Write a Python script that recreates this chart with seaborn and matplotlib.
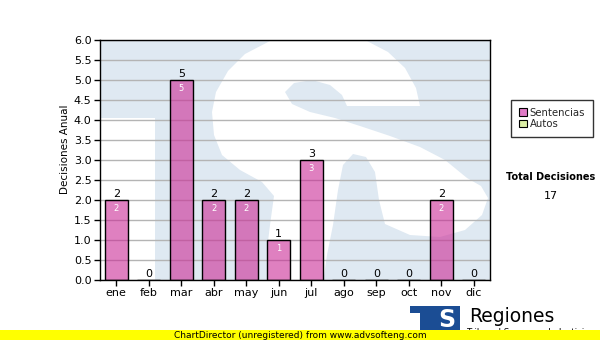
import numpy as np
import pandas as pd
import seaborn as sns
import matplotlib
matplotlib.use('Agg')
import matplotlib.pyplot as plt
from matplotlib.patches import Rectangle, Polygon, Patch

# ---------------- data ----------------
months = ['ene', 'feb', 'mar', 'abr', 'may', 'jun', 'jul', 'ago', 'sep', 'oct', 'nov', 'dic']
sentencias = [2, 0, 5, 2, 2, 1, 3, 0, 0, 0, 2, 0]
autos = [0, 0, 0, 0, 0, 0, 0, 0, 0, 0, 0, 0]
series_names = ['Sentencias', 'Autos']
yticks = [0.0, 0.5, 1.0, 1.5, 2.0, 2.5, 3.0, 3.5, 4.0, 4.5, 5.0, 5.5, 6.0]

totals = [s + a for s, a in zip(sentencias, autos)]
grand_total = sum(totals)

# ---------------- style ----------------
sns.set_theme(style='white')
plt.rcParams['font.family'] = ['DejaVu Sans']

W, H = 600, 340
fig = plt.figure(figsize=(W / 100, H / 100), dpi=100)
fig.patch.set_facecolor('white')
ax = fig.add_axes([100 / W, 60 / H, 390 / W, 240 / H])
ax.set_facecolor('#dfe9f2')

df = pd.DataFrame({'mes': months, 'valor': sentencias})
sns.barplot(data=df, x='mes', y='valor', color='#cb2b96', saturation=1,
            width=0.71, edgecolor='black', linewidth=1, ax=ax)
for bar in ax.containers[0]:
    bar.set_facecolor((203 / 255, 43 / 255, 150 / 255, 0.6))
    bar.set_edgecolor('black')

# watermark (light "TS" logo)
def px_ax(pts):
    return [((x - 100) / 390, (280 - y) / 240) for x, y in pts]

S_PTS = [(347, 106), (420, 106), (416, 88), (405, 68), (388, 52), (365, 40), (340, 32),
         (300, 32), (270, 41), (245, 54), (228, 71), (216, 92), (212, 112), (214, 135),
         (222, 155), (240, 170), (262, 182), (274, 196), (270, 225), (267, 250), (268, 290),
         (322, 290), (327, 255), (333, 225), (338, 190), (343, 165), (353, 154), (366, 157),
         (375, 172), (379, 200), (385, 224), (410, 235), (440, 237), (465, 230), (482, 215),
         (488, 198), (481, 186), (467, 178), (445, 160), (420, 147), (390, 136), (360, 126),
         (335, 118), (310, 112), (292, 104), (285, 92), (294, 83), (312, 80), (330, 85),
         (342, 95)]
ax.add_patch(Rectangle((0, 0), 55 / 390, 162 / 240, transform=ax.transAxes,
                       facecolor='white', edgecolor='none', zorder=0.2))
ax.add_patch(Polygon(px_ax(S_PTS), closed=True, transform=ax.transAxes,
                     facecolor='white', edgecolor='none', zorder=0.2))

ax.set_axisbelow(True)
ax.yaxis.grid(True, color='#b4b4b4', linewidth=1)
ax.xaxis.grid(False)
ax.set_xlim(-0.5, len(months) - 0.5)
ax.set_ylim(0, 6)
ax.set_yticks(yticks)
ax.set_yticklabels([f'{v:.1f}' for v in yticks])
for sp in ax.spines.values():
    sp.set_visible(True)
    sp.set_color('black')
    sp.set_linewidth(1)
ax.tick_params(axis='both', which='major', direction='out', length=4, width=1,
               color='black', labelsize=8, labelcolor='black', pad=2,
               bottom=True, left=True)
ax.set_xlabel('')
ax.set_ylabel('Decisiones Anual', fontsize=7.5, color='black')
ax.yaxis.set_label_coords(-0.077, 0.546)

for i, v in enumerate(totals):
    ax.annotate(str(v), (i, v), xytext=(0, 0.5), textcoords='offset points',
                ha='center', va='bottom', fontsize=8, color='black')
    if v > 0:
        ax.annotate(str(v), (i, v), xytext=(0, -3), textcoords='offset points',
                    ha='center', va='top', fontsize=6, color='white')

# legend
handles = [Patch(facecolor='#e07ac6', edgecolor='black', linewidth=0.8),
           Patch(facecolor='#dcefa6', edgecolor='black', linewidth=0.8)]
leg = fig.legend(handles, series_names, loc='upper left',
                 bbox_to_anchor=(511 / W, 1 - 100 / H), frameon=True, fancybox=False,
                 edgecolor='black', fontsize=7.3, handlelength=0.8, handleheight=0.8,
                 handletextpad=0.3, borderpad=0.75, labelspacing=0.15, borderaxespad=0)
leg.get_frame().set_linewidth(1)

fig.text(551 / W, 1 - 177 / H, 'Total Decisiones', ha='center', va='center',
         fontsize=7, fontweight='bold', color='black')
fig.text(551 / W, 1 - 196 / H, str(grand_total), ha='center', va='center',
         fontsize=8, color='black')

# bottom logo
logo_blue = '#1b4d94'
fig.add_artist(Rectangle((410 / W, 1 - 313 / H), 50 / W, 7 / H, transform=fig.transFigure,
                         facecolor=logo_blue, edgecolor='none'))
fig.add_artist(Rectangle((420 / W, 1 - 332 / H), 15 / W, 19 / H, transform=fig.transFigure,
                         facecolor=logo_blue, edgecolor='none'))
fig.add_artist(Rectangle((435 / W, 1 - 332 / H), 25 / W, 26 / H, transform=fig.transFigure,
                         facecolor=logo_blue, edgecolor='none'))
fig.text(447 / W, 1 - 320 / H, 'S', ha='center', va='center', fontsize=17,
         fontweight='bold', color='white')
fig.text(469 / W, 1 - 322 / H, 'Regiones', ha='left', va='baseline', fontsize=13.5,
         color='black')
fig.text(467 / W, 1 - 335 / H, 'Tribunal Supremo de Justicia', ha='left', va='baseline',
         fontsize=6.2, color='black')

# unregistered banner
fig.add_artist(Rectangle((0, 0), 1, 10 / H, transform=fig.transFigure,
                         facecolor='#ffff00', edgecolor='none', zorder=5))
fig.text(300 / W, 5 / H, 'ChartDirector (unregistered) from www.advsofteng.com',
         ha='center', va='center', fontsize=6.5, color='black', zorder=6)

fig.savefig('out.png', dpi=100)
